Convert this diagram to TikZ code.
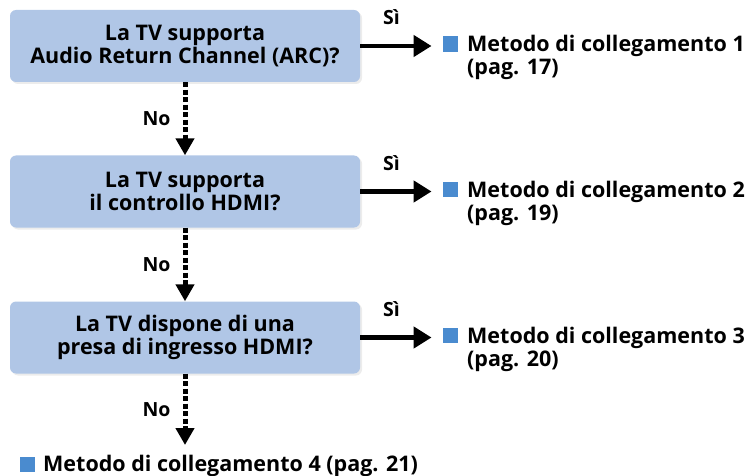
\documentclass[tikz,border=0pt]{standalone}
\usepackage{fontspec}
\setmainfont{Open Sans}
\usetikzlibrary{shadows,arrows.meta}
\definecolor{boxblue}{HTML}{B0C6E6}
\definecolor{markblue}{HTML}{4A8BCF}
\tikzset{
  question/.style={fill=boxblue, rounded corners=6pt, minimum width=350pt,
    minimum height=72pt, align=center, inner sep=0pt,
    font=\bfseries\fontsize{21.5}{22.5}\selectfont,
    drop shadow={shadow xshift=2pt, shadow yshift=-2pt, fill=black!15}},
  marksq/.style={fill=markblue, minimum size=15.5pt, inner sep=0pt},
  result/.style={anchor=base west, align=left, inner sep=0pt,
    font=\bfseries\fontsize{21.5}{23}\selectfont},
  lbl/.style={inner sep=0pt, font=\bfseries\fontsize{19.5}{19.5}\selectfont},
  yes/.style={-{Triangle[length=18pt,width=21pt]}, line width=4.5pt, shorten >=11pt},
  no/.style={-{Triangle[length=17pt,width=18pt]}, line width=5pt,
    dash pattern=on 5pt off 2.5pt}
}
\begin{document}
\begin{tikzpicture}[x=1pt,y=-1pt]
    \useasboundingbox (0,0) rectangle (750,476);
    % questions
    \node[question] (q1) at (185,46) {La TV supporta\\Audio Return Channel (ARC)?};
    \node[question] (q2) at (185,191.5) {La TV supporta\\il controllo HDMI?};
    \node[question] (q3) at (185,337.5) {La TV dispone di una\\presa di ingresso HDMI?};
    % answers
    \node[marksq] (m1) at (450.5,44) {};
    \node[result] (r1) at (467,74.5) {Metodo di collegamento 1\\(pag. 17)};
    \node[marksq] (m2) at (450.5,189.5) {};
    \node[result] (r2) at (467,220) {Metodo di collegamento 2\\(pag. 19)};
    \node[marksq] (m3) at (450.5,335.5) {};
    \node[result] (r3) at (467,366) {Metodo di collegamento 3\\(pag. 20)};
    \node[marksq] (m4) at (27.5,464.5) {};
    \node[result] (r4) at (43,471.5) {Metodo di collegamento 4 (pag. 21)};
    \coordinate (e4) at (185,445);
    % arrows
    \draw[yes] (q1.east) -- (m1.west |- q1.east) node[lbl, pos=0.38, above=19pt] (s1) {Sì};
    \draw[yes] (q2.east) -- (m2.west |- q2.east) node[lbl, pos=0.38, above=19pt] (s2) {Sì};
    \draw[yes] (q3.east) -- (m3.west |- q3.east) node[lbl, pos=0.38, above=19pt] (s3) {Sì};
    \draw[no] (q1.south) -- (q2.north) node[lbl, midway, left=12pt] (n1) {No};
    \draw[no] (q2.south) -- (q3.north) node[lbl, midway, left=12pt] (n2) {No};
    \draw[no] (q3.south) -- (e4) node[lbl, midway, left=12pt] (n3) {No};
\end{tikzpicture}
\end{document}
